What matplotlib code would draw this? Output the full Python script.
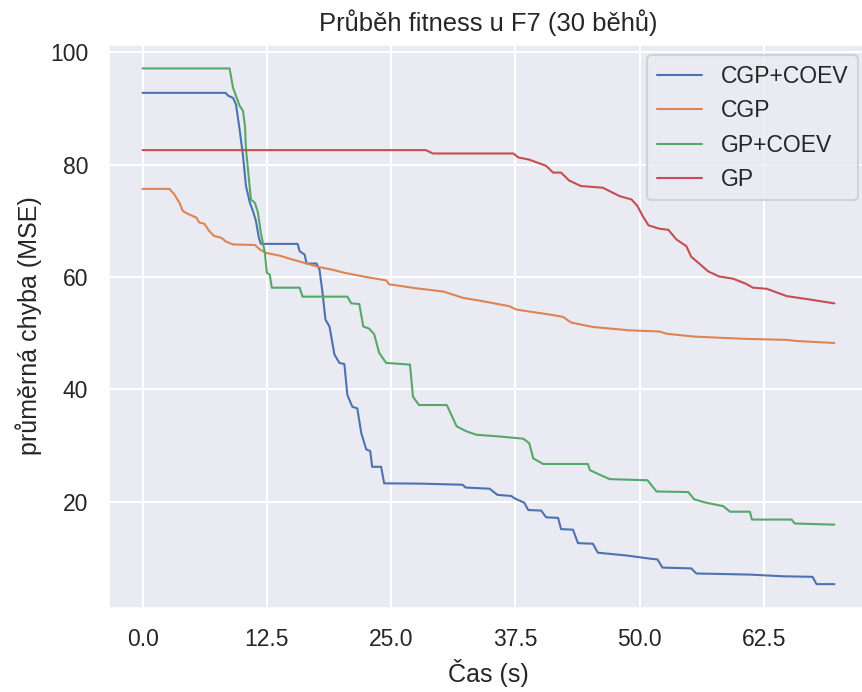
import matplotlib
matplotlib.use("Agg")
import matplotlib.pyplot as plt
import seaborn as sns

sns.set_theme(style="darkgrid", context="notebook")
plt.rcParams['font.family'] = ['Liberation Sans', 'DejaVu Sans']

# Average best fitness over time (s) for each method
t_cgp_coev = [0, 8.35, 8.6, 9.1, 9.4, 9.76, 10.1, 10.4, 10.8, 11.1, 11.4, 11.7, 11.9, 15.6, 15.8, 16.3,
              16.5, 17.5, 17.8, 18.1, 18.4, 18.8, 19.3, 19.8, 20.3, 20.6, 21.1, 21.6, 22.0, 22.5, 22.9,
              23.1, 24.0, 24.3, 28.0, 32.2, 32.5, 34.9, 35.7, 37.1, 37.4, 38.4, 38.8, 40.1, 40.6, 41.8,
              42.1, 43.3, 43.8, 45.3, 45.8, 48.7, 51.0, 51.8, 52.3, 55.2, 55.7, 61.1, 64.4, 67.4, 67.8, 69.6]
v_cgp_coev = [92.8, 92.8, 92.3, 91.9, 90.7, 86.3, 81.6, 76.2, 73.2, 71.75, 70.0, 67.0, 65.9, 65.9, 64.6, 64.0,
              62.4, 62.4, 61.3, 57.2, 52.4, 51.2, 46.2, 44.7, 44.5, 39.0, 36.9, 36.6, 32.2, 29.3, 29.0,
              26.2, 26.2, 23.25, 23.2, 23.0, 22.5, 22.3, 21.2, 21.0, 20.6, 19.8, 18.5, 18.4, 17.2, 17.1,
              15.1, 15.0, 12.6, 12.5, 10.9, 10.4, 9.85, 9.7, 8.25, 8.1, 7.2, 7.0, 6.7, 6.6, 5.3, 5.3]

t_cgp = [0, 2.7, 3.2, 3.7, 4.05, 4.6, 5.4, 5.7, 6.2, 6.7, 7.2, 7.9, 8.4, 9.1, 11.3, 11.8, 12.4, 13.8,
         15.1, 16.5, 17.8, 19.1, 20.3, 22.5, 24.5, 24.8, 27.5, 30.3, 32.2, 34.2, 36.9, 37.6, 41.0, 42.3,
         43.1, 45.3, 49.0, 52.0, 52.7, 55.4, 60.4, 64.8, 65.8, 69.6]
v_cgp = [75.7, 75.7, 74.7, 73.25, 71.75, 71.2, 70.6, 69.7, 69.5, 68.2, 67.3, 67.0, 66.3, 65.8, 65.7, 64.9,
         64.3, 63.8, 63.1, 62.4, 61.75, 61.3, 60.75, 60.0, 59.4, 58.7, 58.0, 57.4, 56.3, 55.7, 54.8, 54.2,
         53.3, 52.9, 51.9, 51.1, 50.5, 50.3, 49.9, 49.4, 49.0, 48.8, 48.6, 48.25]

t_gp_coev = [0, 8.75, 9.1, 9.76, 10.1, 10.3, 10.4, 10.7, 10.9, 11.3, 11.6, 11.9, 12.3, 12.5, 12.8, 13.0,
             15.8, 16.1, 20.6, 21.0, 21.8, 22.2, 22.8, 23.3, 23.8, 24.5, 26.9, 27.2, 27.8, 30.6, 31.6,
             32.6, 33.6, 35.9, 38.3, 38.9, 39.3, 40.3, 44.8, 45.0, 46.1, 47.0, 50.8, 51.7, 54.9, 55.5,
             56.7, 58.4, 59.1, 61.1, 61.3, 65.3, 65.6, 69.6]
v_gp_coev = [97.15, 97.15, 93.7, 90.5, 89.6, 86.9, 82.8, 77.4, 73.8, 73.2, 71.5, 67.9, 64.3, 60.75, 60.4, 58.1,
             58.1, 56.5, 56.5, 55.3, 55.2, 51.2, 50.8, 49.8, 46.5, 44.7, 44.4, 38.7, 37.2, 37.2, 33.4,
             32.5, 31.9, 31.6, 31.2, 30.4, 27.7, 26.7, 26.7, 25.6, 24.7, 24.0, 23.8, 21.8, 21.7, 20.4,
             19.8, 19.2, 18.2, 18.2, 16.8, 16.8, 16.1, 15.9]

t_gp = [0, 28.5, 29.2, 37.3, 37.8, 38.9, 40.6, 41.3, 42.1, 42.9, 44.1, 46.3, 48.0, 49.2, 49.8, 50.3,
        50.9, 52.0, 52.9, 53.7, 54.7, 55.2, 56.0, 56.9, 58.0, 59.4, 60.7, 61.4, 62.8, 64.8, 67.1, 69.6]
v_gp = [82.6, 82.6, 82.0, 82.0, 81.3, 80.9, 79.8, 78.6, 78.6, 77.2, 76.2, 75.9, 74.4, 73.8, 72.6, 70.9,
        69.2, 68.6, 68.4, 66.7, 65.5, 63.6, 62.4, 61.0, 60.1, 59.7, 58.8, 58.1, 57.9, 56.6, 56.0, 55.3]

labels = ["CGP+COEV", "CGP", "GP+COEV", "GP"]
x_ticks = [0.0, 12.5, 25.0, 37.5, 50.0, 62.5]
y_ticks = [20, 40, 60, 80, 100]

fig = plt.figure(figsize=(862 / 150, 692 / 150), dpi=150)
ax = fig.add_axes([108 / 862, 1 - 608 / 692, 761 / 862, 564 / 692])

for t, v, lab in zip([t_cgp_coev, t_cgp, t_gp_coev, t_gp],
                     [v_cgp_coev, v_cgp, v_gp_coev, v_gp], labels):
    ax.plot(t, v, label=lab, linewidth=1.0)

ax.set_ylim(1.05, 101.5)
ax.set_xticks(x_ticks)
ax.set_yticks(y_ticks)
ax.set_title("Průběh fitness u F7 (30 běhů)", fontsize=12.3)
ax.set_xlabel("Čas (s)")
ax.set_ylabel("průměrná chyba (MSE)")
ax.legend(loc="upper right")

fig.savefig("out.png", dpi=150)
